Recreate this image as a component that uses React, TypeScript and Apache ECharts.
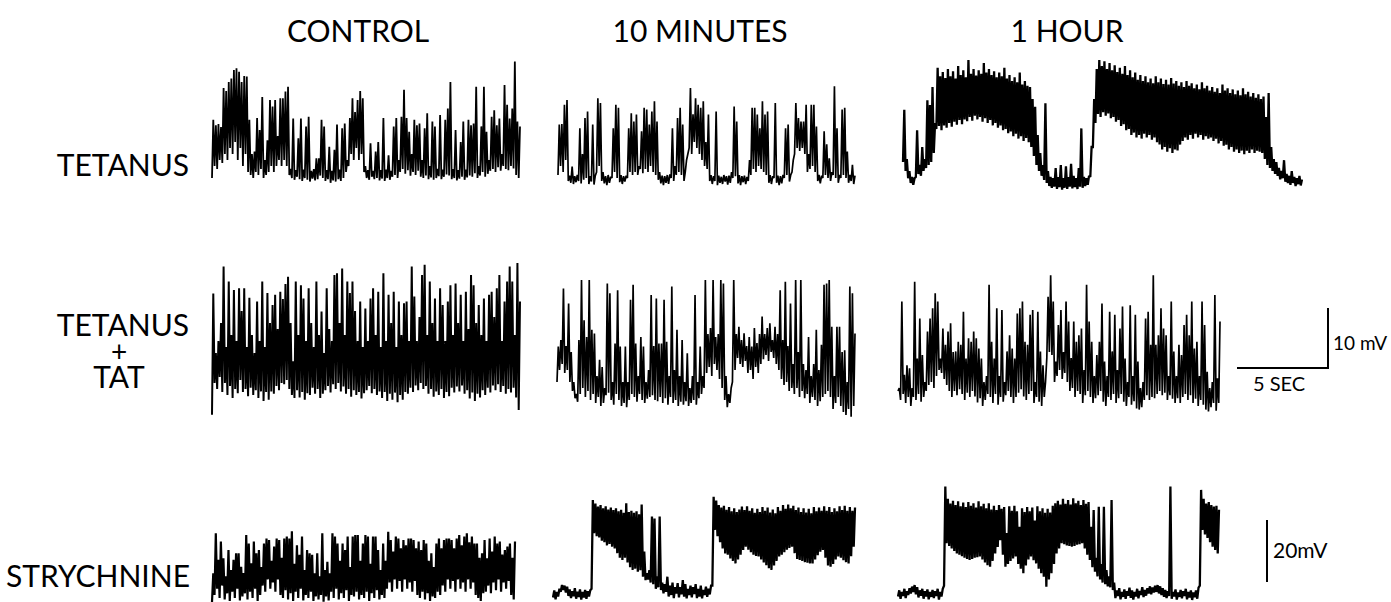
import React, { useEffect, useRef } from "react";
import * as echarts from "echarts";

// ---- text ----
const columnTitles = ["CONTROL", "10 MINUTES", "1 HOUR"];
const rowLabels = ["TETANUS", "TETANUS", "+", "TAT", "STRYCHNINE"];
const scaleLabels = ["10 mV", "5 SEC", "20mV"];

// ---- traces: per time bin, the trough (lo) and the peak (hi) in mV ----
// TETANUS / CONTROL
const tetCtrlLo = [
  -1, 1, 0.5, 2, 1.5, 3, 2, 4, 3, 5,
  2, 4, 1, 3, 0, -0.5, -1, 0, -0.5, 0.5,
  -1, -0.5, 0, 1, 0, 1, 2, 1, 2, 1,
  -0.5, -1, -1.3, -0.8, -1.2, -1.5, -1, -1.3, -1.6, -1.1,
  -1.4, -1.2, -0.6, -1, -1.5, -1.2, -1.8, -1.4, -1.6, -1.2,
  -1.5, -1, 0, 1, 3, 2, 4, 2, 3, 0,
  -1, -1.3, -0.8, -1.2, -1, -1.4, -1.1, -1.5, -1, -1.3,
  -0.8, -0.5, -1, 0, 0.5, -0.3, 0.3, -0.6, 0, -0.5,
  0.2, -0.8, -1, -0.6, -1.2, -0.9, -1.3, -1, -0.7, -1.2,
  -0.8, -0.4, -0.6, -1.2, -1, -1.4, -1.1, -0.8, -1.3, -0.9,
  -0.6, -0.8, -0.2, -1, -0.6, 0, -0.8, -0.3, 0.2, 0.5,
  0, 0.8, 0.2, 1, 0.5, 0.3, 1, 0.6, -0.5, -1,
];
const tetCtrlHi = [
  8.7, 7.8, 8, 7.5, 14, 13.5, 15, 15.6, 17, 17.3,
  16.7, 15, 16, 15.9, 8.7, 3, 3.4, 9, 7, 12.5,
  2, 5.3, 12, 10.9, 12, 6, 12.3, 12.3, 13.4, 14.2,
  0.5, 8.9, 0.3, 5.6, 8.9, 0.4, 7.6, 9.2, 0.2, 0.5,
  2.3, 2.3, 8.7, 7.6, 0.3, 4.2, 0.2, 3.7, 7.9, 0.4,
  7.3, 8.1, 2, 9, 12.3, 10, 12, 13.5, 12.3, 1,
  0.3, 4.8, 0.2, 3.4, 5, 0.3, 9, 0.4, 2.8, 0.2,
  7.6, 9, 2, 9.2, 13.7, 9, 6.7, 3, 8.7, 7.8,
  8.1, 2, 7.3, 9.8, 1, 8.4, 7.6, 0.5, 9.5, 0.4,
  8.7, 10.6, 15, 0.5, 7, 0.3, 5, 8.4, 0.4, 8.7,
  7.8, 8.1, 14.2, 1, 7.6, 14.2, 6.7, 2, 9.2, 10.3,
  7.8, 8.9, 3, 14.5, 11.2, 8.9, 10.6, 18.4, 8.4, 7.6,
];
// TETANUS / 10 MINUTES
const tet10Lo = [
  0.5, 2, 1, 3, -0.5, -0.8, -1, -0.7, -0.5, -0.9,
  -0.3, 0, -1, -0.6, -1.1, 1, 2, -0.5, -0.9, -1.2,
  -0.8, 0, 1, 0, -0.7, -1, -0.6, 0, 1, 0.5,
  1, 0.5, 1.5, 0.8, 1.5, 1, 2, 1, 0.5, -0.3,
  -0.9, -1.2, -0.8, -1, 0, -0.5, 0.5, 1, 0.5, -0.5,
  3, 5, 4, 6, 5, 4, 3, 2, 1.5, -0.5,
  -1, -0.5, -1.2, -0.8, -1, -0.6, -1.1, -0.8, 0, 0.3,
  -0.9, -1.2, -0.7, -1, -0.5, 0.5, 1.5, 1, 2, 1.5,
  1, 0.5, -0.8, -1, 0, -0.8, -1.2, -0.9, 0, 0.5,
  -0.6, 1, 4, 5, 4.5, 5, 4, 1, 1.5, 2,
  1, -0.5, -0.9, 0, 0.5, 0, -0.5, 0.5, 0, -0.8,
  0, 0.5, 0, -0.8, -0.5, -1,
];
const tet10Hi = [
  8.9, 9, 12.2, 13, 0.4, 1.9, 0.3, 0.5, 8.3, 4,
  10, 11.1, 0.3, 8.9, 0.4, 13.3, 12.5, 1, 0.3, 0.5,
  0.2, 8.3, 12.2, 11.7, 0.5, 0.3, 0.4, 8.3, 10.8, 9.4,
  10.6, 2, 7.8, 11.7, 11.4, 8.9, 11.1, 12.8, 9.4, 1,
  0.4, 0.3, 0.5, 0.6, 8.3, 2, 10, 11.7, 8.9, 1,
  4, 15, 10.6, 13.3, 12.2, 11.7, 12.8, 6, 10.6, 0.5,
  0.3, 11.1, 0.4, 0.2, 0.5, 0.3, 0.4, 1, 11.9, 9.4,
  0.5, 0.3, 0.4, 0.2, 3, 11.7, 11.7, 10.6, 8.3, 12.8,
  10.6, 11.1, 0.5, 0.3, 12.5, 0.4, 0.3, 0.5, 8.3, 8.9,
  0.5, 3, 12.5, 10, 9.4, 9.4, 12.2, 4, 12.2, 12.2,
  8.6, 0.5, 0.4, 7.8, 5.6, 3.3, 1, 15.3, 8.3, 0.5,
  11.4, 11.7, 4.4, 0.5, 2.2, 0.4,
];
// TETANUS / 1 HOUR
const tet60Lo = [
  3.5, 2, 0.8, 0, -0.3, 1, 1.5, 1.2, 2, 2.5,
  3, 3.5, 5, 9, 9.5, 8.8, 9.6, 9.2, 10, 9.4,
  10.2, 9.7, 10.5, 9.8, 10.6, 10.3, 11, 10.4, 11.2, 10.6,
  11, 10.2, 10.8, 10, 10.5, 9.6, 10, 9.2, 9.6, 8.8,
  9, 8.3, 8.6, 7.8, 8.2, 7.4, 7.8, 7, 7.5, 6.8,
  6, 4.5, 3, 2, 1.2, 0.5, 0, -0.5, -0.8, -0.6,
  -1, -0.7, -1.1, -0.8, -1, -0.6, -0.9, -0.7, -1, -0.6,
  -0.8, -0.5, -0.3, 1, 6, 10, 11.5, 11, 11.8, 11.2,
  11.6, 10.8, 11, 10.2, 10.5, 9.5, 9.8, 8.8, 9, 8,
  8.4, 7.6, 8, 7.4, 8.2, 7.6, 8, 7.2, 7.6, 6.8,
  6.4, 5.6, 6, 5.2, 5.8, 5, 5.6, 5.4, 6.4, 7,
  7.6, 7.2, 8, 7.4, 8.2, 7.6, 8, 7.2, 7.8, 7.4,
  7.6, 7, 7.4, 6.6, 7, 6.2, 6.4, 5.6, 6, 5.2,
  5.6, 5, 5.4, 4.8, 5.4, 5, 5.6, 5, 5.4, 5.2,
  5, 4, 3, 2.5, 2, 1.5, 1.2, 0.6, 0.8, 0.2,
  0, -0.3, 0, -0.5, -0.2, -0.4,
];
const tet60Hi = [
  12.2, 4, 2, 1, 0.8, 8.8, 3, 6, 4, 13.8,
  13, 16, 10, 19.2, 17.8, 18.5, 17.5, 19, 17.8, 18.6,
  17.4, 19.5, 18, 18.8, 17.6, 20.5, 18.2, 19, 17.9, 18.8,
  18.2, 20, 18.4, 19, 18, 18.6, 17.6, 18.4, 17.8, 19.2,
  17.4, 18, 17, 17.6, 16.8, 18.4, 16.4, 17, 16.2, 16,
  14, 12.7, 8, 5, 3, 13.3, 2, 1, 0.8, 2.5,
  1, 3, 0.8, 2.8, 1, 3.2, 1.2, 0.8, 2.5, 9.1,
  1, 0.8, 1.2, 6, 14, 19, 20.5, 19.5, 20.3, 19,
  20, 18.8, 19.6, 18.5, 19.2, 18.2, 19.5, 18, 18.8, 17.6,
  18.4, 17.2, 18, 17, 17.8, 16.8, 17.4, 16.6, 17.8, 16.8,
  17.4, 16.5, 17.2, 16.4, 17.5, 16.6, 17, 16.2, 16.8, 16,
  17, 16.2, 16.6, 15.8, 16.4, 15.6, 16.8, 15.8, 16.2, 15.4,
  16, 15.2, 15.8, 15, 16.4, 15.4, 15.8, 15, 15.6, 14.8,
  15.4, 14.6, 15.8, 14.8, 15.2, 14.4, 15, 14.2, 14.8, 14,
  14.4, 11, 15, 6, 4, 3.5, 2.5, 2, 3.8, 1.5,
  1.2, 2, 1, 0.8, 1.2, 0.6,
];
// TETANUS + TAT / CONTROL
const tatCtrlLo = [
  -3.3, 2, 1, 3, 0.5, 2, 0, 1.5, -0.5, 1,
  0.3, 2.5, 0.5, 1, -0.2, 1.2, 0, 0.8, -0.5, 0.6,
  -1, 0.5, -0.8, 0.6, 0.2, 1.5, 0.8, 2, 1.8, 2.5,
  1, 0, -0.5, 0.8, -0.4, 0.5, -0.8, 0.3, 0, 1.2,
  0.2, 1, -0.5, 0.2, 0.8, 1.5, 0.4, 1.8, 1, 2,
  0.6, 1.4, 0.2, 1, -0.3, 0.8, 0, 0.5, -0.6, 0.3,
  0.8, 1.5, 0.3, 1, 0, 0.6, -0.5, 0.5, -1, 0.2,
  -0.8, 0.4, -1.2, 0, -0.8, 0.5, 0.2, 1.2, 0.5, 1.6,
  0.8, 2, 1, 1.5, 0.2, 1, -0.3, 0.6, 0, 1,
  -0.5, 0.5, -0.2, 1.2, 0.4, 1.4, 0.6, 1.6, 0.2, 0.8,
  -0.6, 0.4, -1, 0.2, -0.4, 0.8, 0, 1.2, 0.4, 1.6,
  0.8, 1.8, 0.5, 1.5, 0.2, 1, 0.4, 1.2, -0.4, -2.5,
];
const tatCtrlHi = [
  16.9, 7, 9, 12, 21.4, 8, 18.9, 10, 17.5, 9,
  17.8, 14, 17.8, 8, 16.2, 10, 7, 15.6, 9, 18.9,
  8, 17, 12, 15, 16.7, 11, 17.2, 16, 18.5, 19.7,
  12, 5.6, 18.9, 10, 18.3, 16.1, 9, 17.8, 12, 8,
  18.9, 10, 13.9, 7, 17.8, 11, 9, 20, 20.3, 12,
  21.1, 10, 18.9, 17, 18.9, 14, 9, 15.6, 8, 14.4,
  9, 16.1, 17.8, 10, 17.2, 8, 20.3, 9, 16.7, 12,
  17.2, 8, 15.6, 10, 15.3, 15.6, 9, 21.4, 16.4, 9,
  13, 20, 21.7, 10, 18.9, 12, 16.1, 9, 17.8, 15,
  9, 15.6, 18.3, 10, 18.6, 12, 16.7, 9, 17.2, 11,
  20, 18.3, 12, 15, 10, 16.1, 9, 16.7, 17.2, 13,
  17.8, 20, 9, 15.6, 18.9, 21.4, 18.9, 10, 22, 15.6,
];
// TETANUS + TAT / 10 MINUTES
const tat10Lo = [
  3, 5, 6, 4.5, 5, 3, 1.5, 0.3, -0.3, 1,
  2, 0.5, 1.5, 0, 1, -0.5, 0.5, -1, -0.5, 0.8,
  1.2, 0, -0.8, 1, 0, -1, -0.5, -1.2, 0, 1,
  0.5, -0.3, 1, 0, -0.5, 0.2, 0.5, 0.8, 0, -0.2,
  0.5, -0.5, 0.3, -0.8, 0.5, -0.5, 0, -1, -0.3, -0.8,
  -0.2, -1, -0.5, 0, -0.8, 0.3, 1, 2, 4.5, 5.5,
  4, 6, 5, 3.5, 2, 0, -1.2, -0.5, 3, 5,
  7, 6, 5.5, 6.5, 4.5, 5, 3.5, 5.5, 4.5, 6,
  6.8, 7.5, 6.5, 8, 7, 6, 5, 3.5, 2.5, 3,
  1.5, 2, 1, 2, 0.5, 1.5, 0.3, 1, -0.5, 0.5,
  0, -1, -0.2, 0.5, 1, 1.5, 0.5, -1.5, -0.5, 0.5,
  -1, -2, -2.5, -1.5, -2.8, -1,
];
const tat10Hi = [
  8.9, 10, 18.6, 9, 16.1, 8, 3, 1, 10, 20,
  13.3, 10.5, 20, 11.7, 11.1, 4, 6.7, 5.5, 2, 19.4,
  17.8, 3, 9.4, 18.3, 8.9, 3, 8.9, 3, 16.7, 19.2,
  9.4, 4, 10.5, 8.9, 3, 5, 17.5, 9, 16.9, 9.4,
  9.4, 16.7, 9.7, 4, 18.9, 5, 11.7, 4, 10, 3,
  7.8, 2, 4, 17.5, 3, 8.9, 4, 20, 11, 12,
  20, 10.5, 11, 20, 19.4, 4, 1, 2, 20, 11,
  12.2, 10, 11.1, 9, 10.5, 8.9, 12, 9.5, 11, 13.9,
  11, 12, 12.8, 10, 12.2, 11, 18.3, 10, 19.7, 9,
  16.1, 6, 20, 8, 20, 6, 5, 10.5, 4, 6,
  11.7, 5, 9.2, 19.2, 19.4, 20, 12.2, 4, 12.2, 12.2,
  8, 8.3, 3, 18.9, 17.8, 11.1,
];
// TETANUS + TAT / 1 HOUR
const tat60Lo = [
  1.5, 0, 1, -0.5, 0.5, -1, 0.5, 0, 1, -0.3,
  0.5, 1.5, 2.5, 3, 2, 4, 5, 4.5, 3.5, 2.5,
  1.5, 0.5, 1.5, 0.8, 1.8, 1, 0, 1.2, 0.5, 1.5,
  0.6, -0.4, 0.3, -1, 0, 1, 0.5, -0.5, 1, -0.8,
  0.5, -0.3, 0.8, 1.5, 0.5, -0.5, 0.5, 1.2, 1.8, 0.6,
  0, 1, 1.5, -0.5, 0.5, -0.3, -1, 0.5, 7, 8,
  7.5, 3, 4, 5, 3.5, 4.5, 3, 1.5, 2, 0.5,
  1.5, 1, -0.5, 0.8, 1.5, 0.5, -0.5, 0.3, 0.8, 1.5,
  -0.3, -1, 0.5, 0, 1, -0.5, 0.3, 1, -0.3, -1,
  0.5, -0.8, -0.2, -1.4, -1.6, -1.2, 0, 0.8, 0, 0.5,
  0.3, 1, 1.5, 0.8, 1.2, 0, 0.8, 0.2, -0.5, 0.3,
  -0.5, 0.5, 1, 0, 0.8, -0.5, 0.2, -1, 0, -0.8,
  -1.6, -1.9, -1.2, -0.5, -1.8, -0.5,
];
const tat60Hi = [
  2, 16.4, 4.2, 5.8, 5.3, 2, 19.7, 6.9, 13.6, 7.5,
  3, 11.4, 13.6, 15.3, 17.8, 16.4, 6.9, 11.9, 9.2, 11.4,
  12.8, 8, 8.1, 9.7, 9.2, 14.7, 6.9, 10.3, 9.7, 11.4,
  10.3, 8.6, 6.9, 3, 4, 19.2, 9.7, 6.9, 15.3, 4,
  15, 3, 8.1, 10.8, 8.6, 6.9, 14.4, 15.3, 16.4, 9.7,
  9.2, 14.2, 15, 3, 14.7, 8.1, 5.8, 3, 17.2, 20.8,
  16.4, 6.4, 12.5, 15, 8, 16.4, 13.1, 7, 13.1, 9.7,
  10.8, 11.9, 5, 19.2, 13.1, 9.7, 4, 7.5, 9.7, 16.1,
  6.4, 4, 14.7, 8.1, 14.2, 5, 11.9, 15.6, 6.9, 3,
  15.8, 4, 14.2, 6.4, 2, 3, 13.6, 14.7, 9.2, 20.8,
  9.2, 10.8, 15.3, 11.9, 10.8, 4, 16.4, 8.1, 4, 9.2,
  7.5, 12.5, 14.2, 10.8, 16.4, 8.6, 9.7, 4, 16.4, 12.5,
  4.7, 2, 3, 17.5, 3.6, 13.1,
];
// STRYCHNINE / CONTROL
const strCtrlLo = [
  -1.3, 1, 3, 0, 4, -0.5, 1.5, -1, 2, 0,
  3, -0.8, 0.5, 1.5, -0.5, 2, 0, 3, -1, 1,
  4, 2, 6, 3, 5, 2, 6, 1, 0, 2.5,
  -0.5, 1.5, -1, 2, 0, 3, -0.8, 1, 0, 2,
  -1, 0.5, -0.5, 1, -1.2, 0.5, -0.8, 2, 0, 3,
  -0.5, 1.5, 0, 2.5, -1, 1, 0.5, 2, -0.5, 1,
  0, 2, -1, 1.5, 0, 2.5, -0.5, 1, 0, 3,
  5, 2, 6, 3, 5.5, 2, 6, 3, 5, 2,
  5.5, 1, 0, 2, -0.5, 1.5, -1, 0.5, 0, 2,
  1, 4, 2, 6, 3, 5.5, 2, 6, 3, 5,
  2, 6, 3, 5, 1, 0, -1, 1.5, 2, 4,
  1.5, 5, 2.5, 6, 2, 5, 3, 5.5, 1, -0.5,
];
const strCtrlHi = [
  8, 20.9, 12.3, 18.2, 12.8, 7, 15.5, 9, 12.3, 14.4,
  14.4, 10.1, 8, 20.3, 17.6, 11.2, 18.2, 14.4, 15.5, 10,
  17.6, 19.2, 18.7, 12, 16.6, 19.2, 18.7, 13, 19.2, 19.8,
  19.2, 21.5, 11, 17, 13.9, 19.8, 9, 15.5, 14.4, 13.9,
  8, 14.4, 7, 20.9, 9, 11.7, 8, 20.9, 19.8, 17.6,
  12, 17.6, 15.5, 19.8, 10, 19.8, 20.3, 20.3, 12, 17.6,
  20.3, 19.8, 11, 19.8, 19.8, 15.5, 9, 17.6, 12, 21.4,
  18.7, 15, 19.8, 19.2, 16, 18.7, 17, 19.2, 19.2, 18.7,
  16, 18.2, 15.5, 18.7, 17.6, 12, 14.4, 10, 17.6, 19.2,
  16, 18.7, 19.2, 19.2, 18.7, 16, 19.2, 20.3, 17, 19.8,
  20.9, 18, 19.8, 17.6, 17.6, 13, 14.4, 18.7, 12.8, 19.2,
  15, 19.8, 17.6, 18.2, 14, 15.5, 16.6, 17.6, 13, 18.2,
];
// STRYCHNINE / 10 MINUTES
const str10Lo = [
  -0.8, -1.4, -0.5, 1, 1.6, 0.8, -0.3, -1, -0.4, -1.2, -0.6, -1.5, -0.8, -1.2, -0.5,
  2, 19.9, 19, 18.6, 17.5, 17, 16, 16.5, 15.6, 15, 13.5, 12, 11.3, 12, 10.5, 9, 8.1, 8.5, 7.5, 8,
  5.9, 4.8, 5, 4, 3.5, 2, 2.5, 1.6, 0.5, 1, -0.5, 0, -1, 0.5, -0.8, 0.2, -0.5, -1.1, 0, -0.8, 0.3, -1, -0.5, -1.1, 0, -0.6, 0.2,
  3,
  21, 19, 17, 15, 13.4, 13, 11.8, 11, 10.2, 11.5, 13, 14.5, 15.6, 14.6, 13.8, 13, 12.6, 12.4, 11.5, 10.5,
  9.6, 8.6, 8.1, 9.5, 11, 12.4, 13, 13.8, 14.6, 15.2, 15.6, 13.5, 11.6, 11.3, 11, 10.6, 10.4, 10.2, 10.2, 11.5,
  12.8, 14, 14.5, 12, 9.5, 9.1, 10, 11.5, 12.4, 12, 11.2, 10.6, 10.2, 12.5, 15.6,
];
const str10Hi = [
  1.5, 1, 2, 3.2, 3, 2.7, 1.8, 1.2, 2.2, 1.1, 1.8, 1, 1.6, 1.2, 1.5,
  30.6, 29.5, 28.5, 29, 28, 28.6, 27.6, 28.2, 27.4, 28, 27, 27.5, 26.5, 29.6, 26.8, 27.2, 26.5, 27, 26, 29.2,
  14, 7, 8, 25.3, 24.7, 6, 25.3, 4, 3.5, 5.9, 3, 4, 2.5, 3.8, 2.5, 4.8, 3.5, 2, 3, 2.5, 3.5, 2, 3, 1.6, 2.7, 2, 3,
  31.7,
  30.5, 29, 28.2, 28.8, 27.5, 28.4, 27, 28, 26.8, 27.6, 28.5, 27.4, 28.6, 27.2, 28, 26.5, 27.8, 26.8, 28.4, 27.2,
  28.2, 26.6, 27.6, 26.4, 28.4, 27.2, 29, 27.8, 29.2, 28, 28.8, 27.4, 28.2, 26.8, 28, 26.6, 27.8, 26.4, 28.4, 27,
  28.2, 27.2, 28.6, 27.2, 28.4, 26.8, 28, 27, 28.6, 27.4, 28.8, 27.2, 28.4, 27.2, 28.2,
];
// STRYCHNINE / 1 HOUR
const str60Lo = [
  -0.5, -1.2, -0.3, -1, 0, 0.5, 1, 0.2, -0.8, -0.2, -1.2, -0.5, -1.4, -0.6, -1, -0.3, -1.5, -0.5,
  3,
  16.7, 15.8, 15, 14.2, 13.4, 13, 12.5, 12, 11.6, 11.3, 11.6, 12, 12.2, 12.4, 11.5, 10.5, 9.6, 9.1, 11, 13.4,
  15.5, 17.7, 13, 9.1, 10, 11, 11.8, 12.4, 10, 8.5, 7, 9.5, 11.5, 12.4, 11.2, 10.2, 8.5, 7, 5.9, 2.7,
  5, 7, 10, 13.4, 15, 16.7, 16.4, 16, 15.8, 15.6, 15.8, 16.2, 16.4, 16.7, 15, 13,
  11.3, 9, 7.5, 6, 5, 4, 3.5, 2.8, 2.5, 1.6,
  -1, -0.3, -1.4, -0.6, -1.2, -0.2, -0.9, -1.5, -0.5, -1.1, 0, -0.7, -0.2, 0.5, 0.2, 0.8, 1,
  0.5, 0, -0.6, -1, -0.3, -1.2, -0.5, -1.5, -0.6, -1.1, -0.3, -1.4, -0.8, -1.6, -0.7, -1.2,
  3,
  21, 19.5, 18.4, 17, 15.6, 14.5, 13.4,
];
const str60Hi = [
  1.5, 1, 2, 1.2, 2.2, 2.7, 3.2, 2.5, 1.5, 2, 1.2, 1.8, 1, 1.6, 1.2, 2, 1, 2,
  35,
  31, 29.5, 30.4, 29, 30.2, 28.6, 29.8, 28.4, 30, 28.8, 29.6, 28.2, 30.2, 28.6, 29.4, 28, 29.6, 27.6, 28.8, 27.4,
  29, 27.8, 28.4, 20, 28.6, 27.2, 28.8, 27, 22, 28, 26.8, 28.4, 27, 28.2, 24, 28.6, 27, 28, 26.5, 27.8,
  26.6, 28.8, 29.6, 30.4, 29.2, 31, 29.4, 30.6, 29.2, 31.2, 29.6, 30.4, 29, 30.6, 29.4, 30,
  22, 27.4, 12, 28.5, 10, 28.5, 8, 6, 30.6, 4,
  1.5, 2.2, 1, 1.8, 1.2, 2.4, 1.5, 1, 2, 1.3, 2.5, 1.6, 2.2, 2.8, 2.4, 3, 3.2,
  2.8, 2.2, 1.6, 1.2, 35, 1, 1.8, 0.8, 1.6, 1.2, 2, 1, 1.5, 0.8, 1.5, 2.4,
  33.9,
  31, 29.5, 30, 29, 28.5, 28.8, 27.5,
];

// ---- layout of the nine panels (pixel placement, mV scale, pen weight) ----
const panels = [
  { lo: tetCtrlLo, hi: tetCtrlHi, left: 212, right: 520, zeroY: 172, pxPerMv: 6, min: -3, max: 20, pen: 1.8 },
  { lo: tet10Lo, hi: tet10Hi, left: 558, right: 855, zeroY: 178, pxPerMv: 6, min: -3, max: 17, pen: 1.7 },
  { lo: tet60Lo, hi: tet60Hi, left: 903, right: 1302, zeroY: 183, pxPerMv: 6, min: -3, max: 22, pen: 2.3 },
  { lo: tatCtrlLo, hi: tatCtrlHi, left: 212, right: 520, zeroY: 395, pxPerMv: 6, min: -4, max: 23, pen: 2.0 },
  { lo: tat10Lo, hi: tat10Hi, left: 557, right: 855, zeroY: 400, pxPerMv: 6, min: -4, max: 22, pen: 1.7 },
  { lo: tat60Lo, hi: tat60Hi, left: 898, right: 1220, zeroY: 400, pxPerMv: 6, min: -3, max: 22, pen: 1.7 },
  { lo: strCtrlLo, hi: strCtrlHi, left: 212, right: 515, zeroY: 598, pxPerMv: 3.1, min: -1.3, max: 24, pen: 2.2 },
  { lo: str10Lo, hi: str10Hi, left: 553, right: 855, zeroY: 595, pxPerMv: 3.1, min: -2, max: 34, pen: 2.3 },
  { lo: str60Lo, hi: str60Hi, left: 898, right: 1219, zeroY: 595, pxPerMv: 3.1, min: -2, max: 37, pen: 2.3 },
];

const FONT = "Lato, 'Open Sans', sans-serif";
const INK = "#000";

function buildOption() {
  const grid: any[] = [];
  const xAxis: any[] = [];
  const yAxis: any[] = [];
  const series: any[] = [];
  panels.forEach((p, k) => {
    grid.push({
      left: p.left,
      top: p.zeroY - p.max * p.pxPerMv,
      width: p.right - p.left,
      height: (p.max - p.min) * p.pxPerMv,
      containLabel: false,
    });
    xAxis.push({ type: "value", gridIndex: k, min: 0, max: p.lo.length - 0.5, show: false });
    yAxis.push({ type: "value", gridIndex: k, min: p.min, max: p.max, show: false });
    const data: number[][] = [];
    p.lo.forEach((v, i) => {
      data.push([i, v]);
      data.push([i + 0.5, p.hi[i]]);
    });
    series.push({
      type: "line",
      xAxisIndex: k,
      yAxisIndex: k,
      data,
      symbol: "none",
      silent: true,
      lineStyle: { color: INK, width: p.pen, join: "miter", miterLimit: 2 },
      clip: true,
    });
  });

  const txt = (text: string, x: number, y: number, size: number, align: string) => ({
    type: "text",
    x,
    y,
    silent: true,
    style: {
      text,
      font: `${size}px ${FONT}`,
      fill: INK,
      textAlign: align,
      align,
      textVerticalAlign: "middle",
      verticalAlign: "middle",
    },
  });
  const bar = (x1: number, y1: number, x2: number, y2: number) => ({
    type: "line",
    silent: true,
    shape: { x1, y1, x2, y2 },
    style: { stroke: INK, lineWidth: 2 },
  });

  const graphic = [
    txt(columnTitles[0], 358, 30, 30, "center"),
    txt(columnTitles[1], 700, 30, 30, "center"),
    txt(columnTitles[2], 1067, 30, 30, "center"),
    txt(rowLabels[0], 189, 164, 30, "right"),
    txt(rowLabels[1], 189, 324, 30, "right"),
    txt(rowLabels[2], 119, 351, 28, "center"),
    txt(rowLabels[3], 119, 376, 30, "center"),
    txt(rowLabels[4], 190, 575, 30, "right"),
    bar(1328, 308, 1328, 369),
    bar(1237, 368, 1329, 368),
    txt(scaleLabels[0], 1333, 342, 19, "left"),
    txt(scaleLabels[1], 1253, 383, 20, "left"),
    bar(1267, 520, 1267, 582),
    txt(scaleLabels[2], 1273, 549, 21, "left"),
  ];

  return {
    animation: false,
    backgroundColor: "#fff",
    grid,
    xAxis,
    yAxis,
    series,
    graphic,
  };
}

export default function App() {
  const ref = useRef<HTMLDivElement>(null);
  useEffect(() => {
    if (!ref.current) return;
    const chart = echarts.init(ref.current, null, { renderer: "svg" });
    chart.setOption(buildOption() as any);
    return () => chart.dispose();
  }, []);
  return (
    <div
      ref={ref}
      style={{ position: "absolute", left: 0, top: 0, width: 1391, height: 602, background: "#fff" }}
    />
  );
}
